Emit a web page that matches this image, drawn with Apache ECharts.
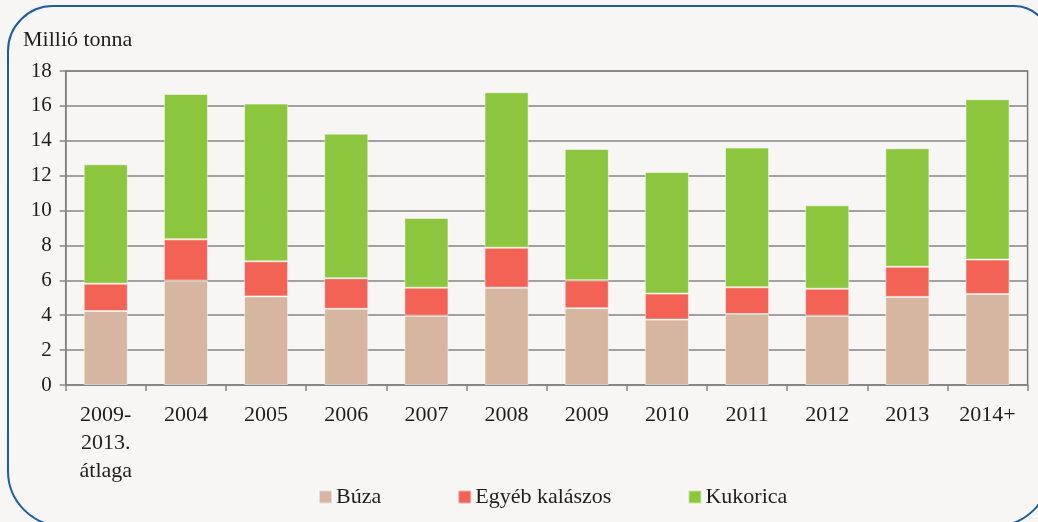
<!DOCTYPE html>
<html>
<head>
<meta charset="utf-8">
<script src="https://cdn.jsdelivr.net/npm/echarts@6/dist/echarts.min.js"></script>
<style>
html,body{margin:0;padding:0;background:#f7f6f4;}
#main{width:1038px;height:522px;}
</style>
</head>
<body>
<div id="main"></div>
<script>
var categories = ['2009-\n2013.\nátlaga','2004','2005','2006','2007','2008','2009','2010','2011','2012','2013','2014+'];
var buza     = [4.24, 5.98, 5.08, 4.37, 3.97, 5.58, 4.40, 3.75, 4.07, 3.97, 5.05, 5.22];
var egyeb    = [1.57, 2.37, 2.01, 1.75, 1.61, 2.29, 1.60, 1.49, 1.53, 1.55, 1.73, 1.97];
var kukorica = [6.84, 8.33, 9.04, 8.29, 4.00, 8.91, 7.53, 6.97, 8.01, 4.78, 6.79, 9.19];
var seriesNames = ['Búza','Egyéb kalászos','Kukorica'];
var yTicks = {min:0, max:18, interval:2};
var yAxisTitle = 'Millió tonna';

var FONT = '"Liberation Serif", "DejaVu Serif", serif';
var TXT = '#1e1e1e';
var GRID = '#858585';
var colors = ['#d6b6a1','#f26356','#8cc63f'];

var chart = echarts.init(document.getElementById('main'), null, {renderer:'canvas'});
function bar(name, data, color){
  return {
    name: name, type:'bar', stack:'total', data:data, barWidth:'55%',
    itemStyle:{color:color, borderColor:'rgba(255,255,255,0.5)', borderWidth:1},
    emphasis:{disabled:true}
  };
}
chart.setOption({
  backgroundColor:'#f7f6f4',
  animation:false,
  textStyle:{fontFamily:FONT, color:TXT},
  grid:{left:65.7, right:10.4, top:71, bottom:137, show:true, borderColor:'#787878', borderWidth:1.5, backgroundColor:'transparent'},
  graphic:[
    {type:'rect', z:100, silent:true, shape:{x:8, y:6, width:1042, height:520, r:[45,36,55,55]},
     style:{fill:'none', stroke:'#1b5e9e', lineWidth:2}},
    {type:'text', left:23, top:29, style:{text:yAxisTitle, font:'22px '+FONT, fill:TXT}}
  ],
  legend:{
    left:313, top:481, icon:'rect', itemWidth:13, itemHeight:13, itemGap:76,
    textStyle:{fontFamily:FONT, fontSize:22, color:TXT, padding:[0,0,0,-1]},
    data:seriesNames
  },
  xAxis:{
    type:'category', data:categories,
    axisLine:{lineStyle:{color:GRID, width:1.5}},
    axisTick:{show:true, length:6, alignWithLabel:false, lineStyle:{color:GRID, width:1.5}},
    axisLabel:{fontFamily:FONT, fontSize:22, color:TXT, margin:16, lineHeight:28, interval:0}
  },
  yAxis:{
    type:'value', min:yTicks.min, max:yTicks.max, interval:yTicks.interval,
    axisLine:{show:true, lineStyle:{color:GRID, width:1.5}},
    axisTick:{show:true, length:6, lineStyle:{color:GRID, width:1.5}},
    axisLabel:{fontFamily:FONT, fontSize:21, color:TXT, margin:14},
    splitLine:{lineStyle:{color:GRID, width:1.5}}
  },
  series:[
    bar(seriesNames[0], buza, colors[0]),
    bar(seriesNames[1], egyeb, colors[1]),
    bar(seriesNames[2], kukorica, colors[2])
  ]
});
</script>
</body>
</html>
